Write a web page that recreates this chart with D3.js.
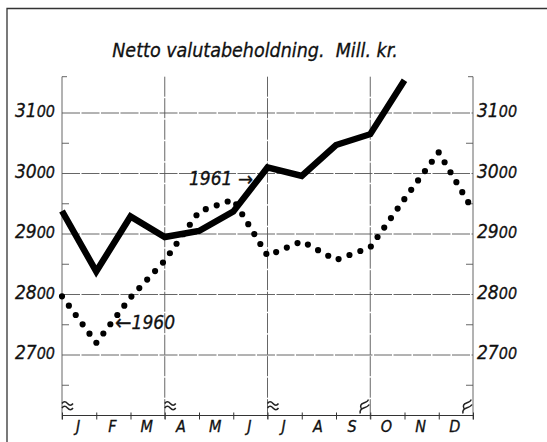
<!DOCTYPE html>
<html>
<head>
<meta charset="utf-8">
<script src="https://cdn.jsdelivr.net/npm/d3@7"></script>
<style>
  html, body { margin: 0; padding: 0; background: #fff; }
  svg { display: block; }
  text { font-family: "DejaVu Sans Condensed", "DejaVu Sans", sans-serif; font-style: italic; fill: #111; stroke: #111; stroke-width: 0.3; }
</style>
</head>
<body>
<svg width="547" height="442"></svg>
<script>
// month labels along the bottom
const months = ["J","F","M","A","M","J","J","A","S","O","N","D"];
// y tick labels (mill. kr.)
const yTicks = [2700, 2800, 2900, 3000, 3100];
const yMinor = [2650, 2750, 2850, 2950, 3050];
// month-end values, first point = end of previous December
const values1960 = [2797, 2720, 2795, 2856, 2937, 2957, 2864, 2888, 2857, 2878, 2958, 3035, 2939];
const values1961 = [2938, 2838, 2929, 2895, 2905, 2937, 3010, 2996, 3047, 3065, 3154];

const svg = d3.select("svg");

const x = d3.scaleLinear().domain([0, 12]).range([62, 473]);
const y = d3.scaleLinear().domain([2600, 3160]).range([415.5, 76.7]);

const yTop = y(3160), yBottom = y(2600);

// frame
svg.append("path")
    .attr("d", "M7,442 V8.5 H547")
    .attr("fill", "none")
    .attr("stroke", "#333")
    .attr("stroke-width", 1.3);

// title
svg.append("text")
    .attr("x", 255)
    .attr("y", 57)
    .attr("text-anchor", "middle")
    .attr("font-size", 19.5)
    .attr("xml:space", "preserve")
    .text("Netto valutabeholdning.  Mill. kr.");

const grid = svg.append("g")
    .attr("stroke", "#555")
    .attr("stroke-width", 0.9)
    .attr("fill", "none");

// horizontal grid
grid.selectAll("line.h")
    .data(yTicks)
    .join("line")
    .attr("class", "h")
    .attr("x1", x(0)).attr("x2", x(12))
    .attr("y1", d => y(d)).attr("y2", d => y(d))
    .attr("stroke-dasharray", "18,1.5");

// vertical quarter lines (incl. side axes)
grid.selectAll("line.v")
    .data([0, 3, 6, 9, 12])
    .join("line")
    .attr("class", "v")
    .attr("x1", d => x(d)).attr("x2", d => x(d))
    .attr("y1", yTop).attr("y2", yBottom + 4)
    .attr("stroke-dasharray", (d, i) => (i === 0 || i === 4) ? null : "20,1.5");

// top brackets
grid.append("line").attr("x1", x(0)).attr("x2", x(0) + 5).attr("y1", yTop).attr("y2", yTop);
grid.append("line").attr("x1", x(12) - 5).attr("x2", x(12)).attr("y1", yTop).attr("y2", yTop);

// minor ticks on both sides, pointing inward
grid.selectAll("line.ml")
    .data(yMinor)
    .join("line")
    .attr("class", "ml")
    .attr("x1", x(0)).attr("x2", x(0) + 7)
    .attr("y1", d => y(d)).attr("y2", d => y(d));
grid.selectAll("line.mr")
    .data(yMinor)
    .join("line")
    .attr("class", "mr")
    .attr("x1", x(12) - 7).attr("x2", x(12))
    .attr("y1", d => y(d)).attr("y2", d => y(d));

// y labels with small old-style looking zeros
function fmtLabel(sel) {
    sel.selectAll(".tick text").each(function(d) {
        const t = d3.select(this).text("");
        const s = String(d);
        t.append("tspan").attr("font-size", 19).text(s.slice(0, 2));
        t.append("tspan").attr("font-size", 16).text(s.slice(2));
    });
}

svg.append("g")
    .attr("transform", `translate(${x(0)},0)`)
    .call(d3.axisLeft(y).tickValues(yTicks).tickSize(0).tickPadding(7))
    .call(g => g.select(".domain").remove())
    .call(g => g.selectAll("text").attr("font-family", null).attr("font-size", null).attr("fill", null).attr("dy", "0.36em"))
    .call(fmtLabel);

svg.append("g")
    .attr("transform", `translate(${x(12)},0)`)
    .call(d3.axisRight(y).tickValues(yTicks).tickSize(0).tickPadding(4))
    .call(g => g.select(".domain").remove())
    .call(g => g.selectAll("text").attr("font-family", null).attr("font-size", null).attr("fill", null).attr("dy", "0.36em"))
    .call(fmtLabel);

// bottom axis
svg.append("g")
    .attr("transform", `translate(0,${yBottom})`)
    .call(d3.axisBottom(x).tickValues(d3.range(13)).tickSize(4).tickFormat(""))
    .call(g => g.select(".domain").attr("d", `M${x(0)},0H${x(12)}`).attr("stroke", "#333").attr("stroke-width", 1.2))
    .call(g => g.selectAll(".tick line").attr("y1", -3).attr("stroke", "#333"));

svg.append("g")
    .selectAll("text")
    .data(months)
    .join("text")
    .attr("x", (d, i) => x(i + 0.5) - 1)
    .attr("y", yBottom + 16)
    .attr("text-anchor", "middle")
    .attr("font-size", 16)
    .text(d => d);

// axis break marks
const brk = svg.append("g").attr("fill", "none").attr("stroke", "#222").attr("stroke-width", 1.5);
[0, 3, 6].forEach(i => {
    const bx = x(i), by = yBottom - 12;
    brk.append("path").attr("d", `M${bx},${by} q2.5,-3.5 5.5,0 t5.5,0 M${bx},${by + 4.5} q2.5,-3.5 5.5,0 t5.5,0`);
});
[9, 12].forEach(i => {
    const bx = x(i), by = yBottom - 11;
    brk.append("path").attr("d", `M${bx - 9},${by + 4} q-2,-4 2.5,-5.5 t4.5,-3.5 M${bx - 10},${by + 9} q-1,-4 3.5,-5.5 t5.5,-3.5`);
});

const line = d3.line()
    .x((d, i) => x(i))
    .y(d => y(d));

// 1960 dotted
svg.append("path")
    .datum(values1960)
    .attr("d", line)
    .attr("fill", "none")
    .attr("stroke", "#000")
    .attr("stroke-width", 6.2)
    .attr("stroke-linecap", "round")
    .attr("stroke-dasharray", "0,11.6");

// 1961 solid
svg.append("path")
    .datum(values1961)
    .attr("d", line)
    .attr("fill", "none")
    .attr("stroke", "#000")
    .attr("stroke-width", 6.4)
    .attr("stroke-linejoin", "miter")
    .attr("stroke-linecap", "butt");

// series labels
const lab61 = svg.append("text")
    .attr("x", 189)
    .attr("y", 185)
    .attr("font-size", 19)
    .attr("xml:space", "preserve");
lab61.append("tspan").text("1961 ");
lab61.append("tspan").attr("font-size", 20).attr("font-style", "normal").attr("dy", 0.5).text("\u2192");

const lab60 = svg.append("text")
    .attr("x", 115)
    .attr("y", 329)
    .attr("font-size", 19);
lab60.append("tspan").attr("font-size", 22).attr("font-style", "normal").attr("dy", 0.5).text("\u2190");
lab60.append("tspan").attr("dy", -0.5).text("1960");
</script>
</body>
</html>
